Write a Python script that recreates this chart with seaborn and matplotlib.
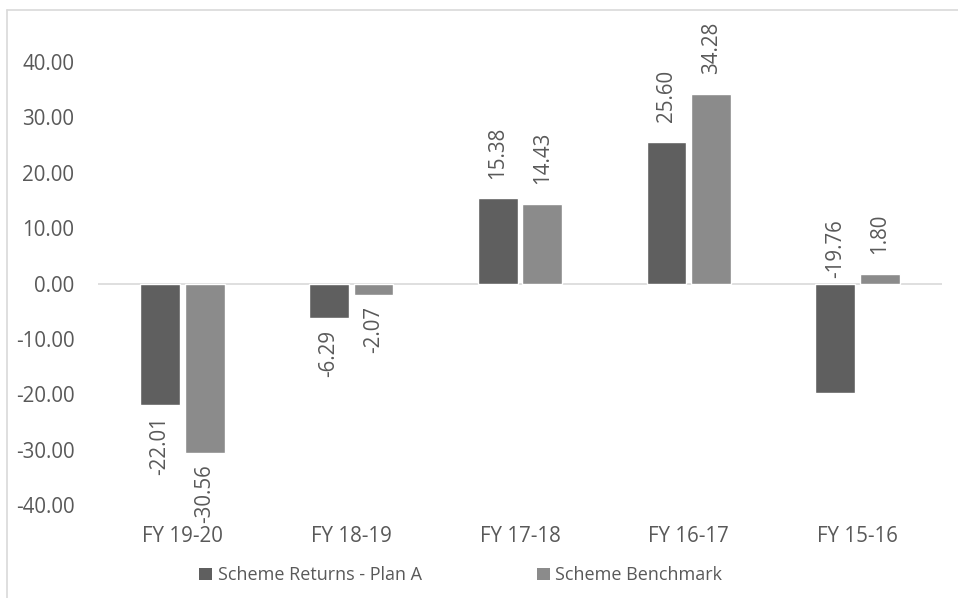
import matplotlib
matplotlib.use("Agg")
import matplotlib.pyplot as plt
import seaborn as sns
import pandas as pd
from matplotlib.lines import Line2D
from matplotlib.patches import Patch

# chart data
periods = ["FY 19-20", "FY 18-19", "FY 17-18", "FY 16-17", "FY 15-16"]
scheme_returns = [-22.01, -6.29, 15.38, 25.60, -19.76]
scheme_benchmark = [-30.56, -2.07, 14.43, 34.28, 1.80]
series_names = ["Scheme Returns - Plan A", "Scheme Benchmark"]
y_ticks = [-40, -30, -20, -10, 0, 10, 20, 30, 40]
# in the source chart the FY 15-16 plan label sits above the zero line
label_above_axis = [[False, False, False, False, True],
                    [False, False, False, False, False]]

df = pd.DataFrame({
    "period": periods * 2,
    "value": scheme_returns + scheme_benchmark,
    "series": [series_names[0]] * len(periods) + [series_names[1]] * len(periods),
})

sns.set_theme(style="white")
plt.rcParams["font.family"] = ["Open Sans", "DejaVu Sans"]
text_color = "#595959"
colors = ["#5f5f5f", "#8b8b8b"]
fs = 14.8

fig = plt.figure(figsize=(9.58, 5.98), dpi=100)
ax = fig.add_axes([98 / 958, 1 - 505 / 598, 844 / 958, 443 / 598])

sns.barplot(data=df, x="period", y="value", hue="series", order=periods,
            hue_order=series_names, palette=colors, width=0.53, gap=0.11,
            saturation=1, legend=False, ax=ax)

for cont, flags in zip(ax.containers, label_above_axis):
    pos_labels, neg_labels = [], []
    for bar, flag in zip(cont, flags):
        h = bar.get_height() if bar.get_y() == 0 else bar.get_y()
        if bar.get_y() < 0:
            h = bar.get_y()
        txt = f"{h:.2f}"
        if flag:
            ax.annotate(txt, (bar.get_x() + bar.get_width() / 2, 0),
                        xytext=(0, 4), textcoords="offset points",
                        rotation=90, ha="center", va="bottom",
                        fontsize=fs, color=text_color)
            pos_labels.append("")
            neg_labels.append("")
        elif h >= 0:
            pos_labels.append(txt)
            neg_labels.append("")
        else:
            pos_labels.append("")
            neg_labels.append(txt)
    ax.bar_label(cont, labels=pos_labels, rotation=90, padding=14,
                 fontsize=fs, color=text_color, clip_on=False)
    ax.bar_label(cont, labels=neg_labels, rotation=90, padding=8,
                 fontsize=fs, color=text_color, clip_on=False)

ax.set_ylim(-40, 40)
ax.set_xlim(-0.5, 4.5)
ax.set_yticks(y_ticks)
ax.set_yticklabels([f"{t:.2f}" for t in y_ticks])
ax.axhline(0, color="#d9d9d9", lw=1.2, zorder=0)
ax.set_xlabel("")
ax.set_ylabel("")
sns.despine(ax=ax, left=True, bottom=True)
ax.tick_params(axis="both", length=0, labelsize=fs, labelcolor=text_color)
ax.tick_params(axis="x", pad=15)
ax.tick_params(axis="y", pad=17)

# chart border
fig.add_artist(Line2D([7 / 958, 7 / 958], [0, 1 - 10 / 598], transform=fig.transFigure,
                      color="#d9d9d9", lw=1.2))
fig.add_artist(Line2D([7 / 958, 1], [1 - 10 / 598, 1 - 10 / 598], transform=fig.transFigure,
                      color="#d9d9d9", lw=1.2))

handles = [Patch(facecolor=c, edgecolor="none") for c in colors]
fig.legend(handles, series_names, loc="center", bbox_to_anchor=(0.481, 0.038),
           ncol=2, frameon=False, fontsize=13, labelcolor=text_color,
           handlelength=0.7, handleheight=0.7, handletextpad=0.3, columnspacing=6.4)

fig.savefig("out.png", dpi=100)
